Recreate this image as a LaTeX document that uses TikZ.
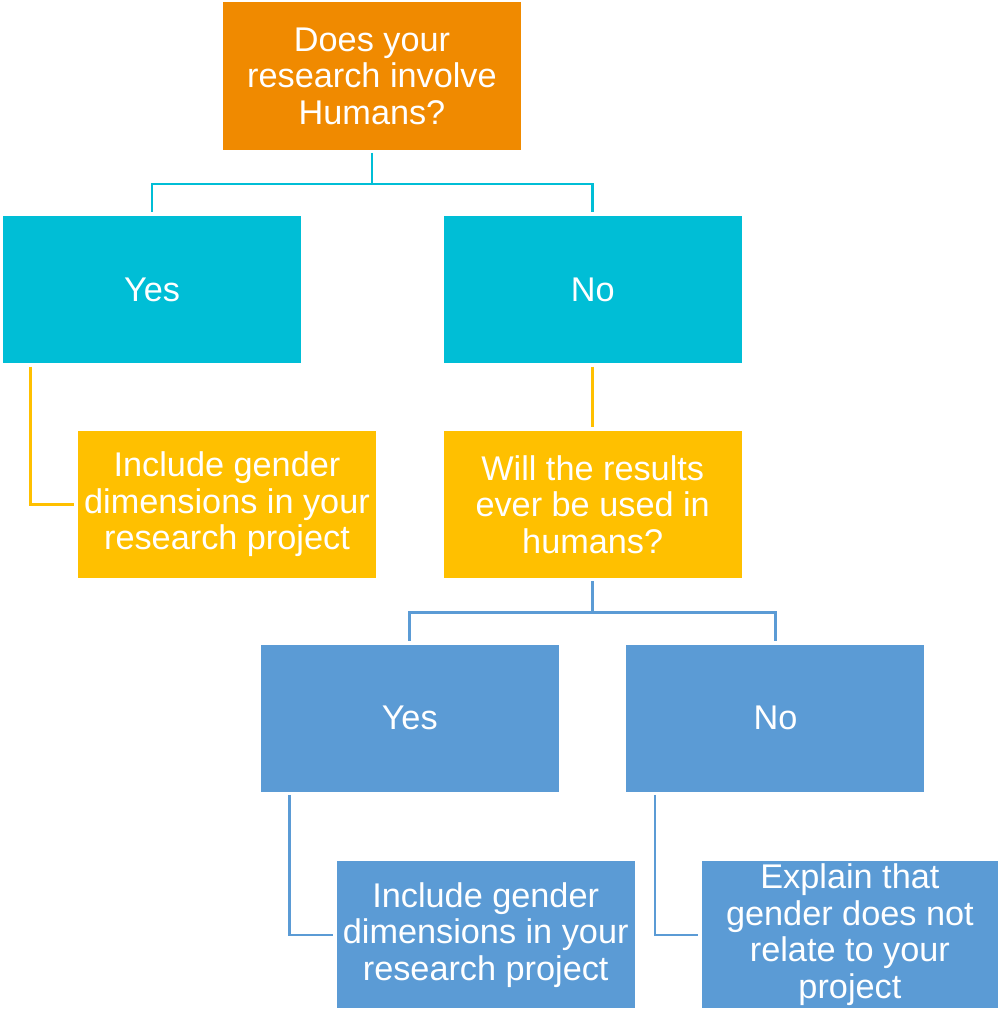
\documentclass[tikz,border=0pt]{standalone}
\usepackage{fontspec}
\setmainfont{Liberation Sans}
\usepackage{tikz}
\usetikzlibrary{positioning}

\definecolor{qorange}{HTML}{F08A00}
\definecolor{qcyan}{HTML}{00BED6}
\definecolor{qyellow}{HTML}{FFC000}
\definecolor{qblue}{HTML}{5B9BD5}

\begin{document}
\begin{tikzpicture}[
    box/.style={minimum width=5.96cm, minimum height=2.94cm, inner sep=0pt, align=center, text=white, font=\fontsize{19.5}{20.8}\selectfont},
    qbox/.style={box, fill=qorange},
    abox/.style={box, fill=qcyan},
    ybox/.style={box, fill=qyellow},
    bbox/.style={box, fill=qblue},
    link/.style={line width=1.5pt, shorten <=0.06cm, shorten >=0.07cm},
]

\useasboundingbox (-7.44,1.52) rectangle (12.52,-18.66);

% Question
\node[qbox] (humans) at (0,0) {Does your\\research involve\\Humans?};

% First answers
\node[abox, below=1.32cm of humans, xshift=-4.4cm] (yes1) {Yes};
\node[abox, right=2.84cm of yes1] (no1) {No};

\node[ybox, below=1.34cm of yes1, xshift=1.5cm] (include1) {Include gender\\dimensions in your\\research project};
\node[ybox, below=1.34cm of no1] (results) {Will the results\\ever be used in\\humans?};

% Second answers
\node[bbox, below=1.32cm of results, xshift=-3.66cm] (yes2) {Yes};
\node[bbox, right=1.34cm of yes2] (no2) {No};

\node[bbox, below=1.38cm of yes2, xshift=1.52cm] (include2) {Include gender\\dimensions in your\\research project};
\node[bbox, below=1.38cm of no2, xshift=1.49cm, minimum width=5.92cm] (explain) {Explain that\\gender does not\\relate to your\\project};

% Connections
\draw[link, qcyan] (humans.south) -- ++(0,-0.68) -| (yes1.north);
\draw[link, qcyan] (humans.south) -- ++(0,-0.68) -| (no1.north);

\draw[link, qyellow] ([xshift=0.56cm]yes1.south west) |- (include1.west);
\draw[link, qyellow] (no1.south) -- (results.north);

\draw[link, qblue] (results.south) -- ++(0,-0.68) -| (yes2.north);
\draw[link, qblue] (results.south) -- ++(0,-0.68) -| (no2.north);

\draw[link, qblue] ([xshift=0.58cm]yes2.south west) |- (include2.west);
\draw[link, qblue] ([xshift=0.58cm]no2.south west) |- (explain.west);

\end{tikzpicture}
\end{document}
